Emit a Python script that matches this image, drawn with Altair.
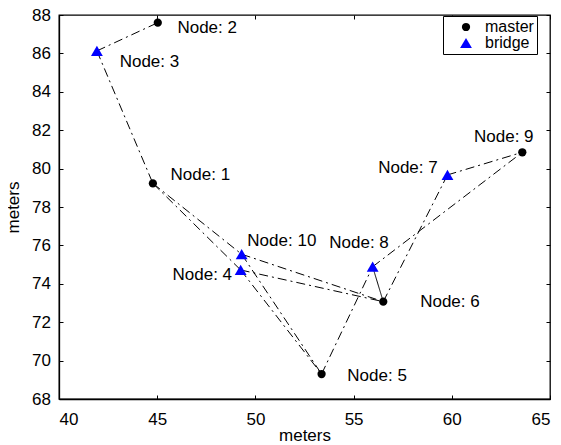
import altair as alt
import pandas as pd

# ---- data ----
node_ids = [1, 2, 3, 4, 5, 6, 7, 8, 9, 10]
node_x = [44.78, 45.03, 41.93, 49.25, 53.37, 56.51, 59.78, 55.97, 63.59, 49.30]
node_y = [79.23, 87.60, 86.13, 74.72, 69.30, 73.07, 79.67, 74.89, 80.85, 75.54]
node_role = ["master", "master", "bridge", "bridge", "master",
             "master", "bridge", "bridge", "master", "bridge"]
label_x = [45.68, 46.03, 43.09, 45.78, 54.68, 58.39, 56.25, 53.76, 61.13, 49.59]
label_y = [79.67, 87.32, 85.55, 74.46, 69.20, 73.05, 80.03, 76.13, 81.65, 76.23]

edge_from = [2, 3, 1, 1, 10, 4, 10, 4, 5, 8, 8, 6, 7]
edge_to = [3, 1, 10, 4, 6, 6, 5, 5, 8, 6, 9, 7, 9]
edge_style = ["dashdot"] * 9 + ["solid"] + ["dashdot"] * 3

x_ticks = [40, 45, 50, 55, 60, 65]
y_ticks = [68, 70, 72, 74, 76, 78, 80, 82, 84, 86, 88]

FONT = "Liberation Sans"

nodes = pd.DataFrame({
    "id": node_ids, "x": node_x, "y": node_y, "role": node_role,
    "lx": label_x, "ly": label_y,
    "label": [f"Node: {i}" for i in node_ids],
})
pos = {i: (node_x[k], node_y[k]) for k, i in enumerate(node_ids)}
rows = []
for e, (a, b, s) in enumerate(zip(edge_from, edge_to, edge_style)):
    for n in (a, b):
        rows.append({"edge": e, "x": pos[n][0], "y": pos[n][1], "style": s})
edges = pd.DataFrame(rows)

xs = alt.Scale(domain=[40, 65], nice=False, zero=False)
ys = alt.Scale(domain=[68, 88], nice=False, zero=False)
inward = {"expr": "-4"}

axis_style = dict(labelFont=FONT, titleFont=FONT, labelFontSize=17, titleFontSize=17,
                  titleFontWeight="normal", labelColor="black", titleColor="black",
                  domainColor="black", tickColor="black", domainWidth=1.3, tickWidth=1,
                  grid=False, labelOverlap=False)

x_axis = alt.Axis(values=x_ticks, title="meters", tickSize=inward,
                  labelPadding=16, titleBaseline="alphabetic", titleY=41,
                  **axis_style)
y_axis = alt.Axis(values=y_ticks, title="meters", tickSize=inward,
                  labelPadding=12.5, titleBaseline="alphabetic", titleX=-40.5,
                  titleY=192, **axis_style)

X = alt.X("x:Q", scale=xs, axis=x_axis)
Y = alt.Y("y:Q", scale=ys, axis=y_axis)

lines = alt.Chart(edges).mark_line(color="black", strokeWidth=1).encode(
    x=X, y=Y,
    detail="edge:N",
    strokeDash=alt.StrokeDash("style:N", scale=alt.Scale(
        domain=["dashdot", "solid"], range=[[9, 4, 2, 4], [1, 0]]), legend=None),
)

leg = alt.Legend(title=None, orient="none", legendX=384, legendY=1,
                 strokeColor="black", fillColor="white", padding=3,
                 symbolOffset=12, labelOffset=11, labelFontSize=16,
                 labelFont=FONT, symbolSize=50, rowPadding=0,
                 symbolStrokeWidth=0, labelColor="black")

points = alt.Chart(nodes).mark_point(filled=True, opacity=1).encode(
    x=X, y=Y,
    shape=alt.Shape("role:N", scale=alt.Scale(domain=["master", "bridge"],
                    range=["circle", "triangle-up"]), legend=leg),
    color=alt.Color("role:N", scale=alt.Scale(domain=["master", "bridge"],
                    range=["black", "#0000ff"]), legend=leg),
    size=alt.Size("role:N", scale=alt.Scale(domain=["master", "bridge"],
                  range=[68, 140]), legend=None),
)

labels = alt.Chart(nodes).mark_text(align="left", baseline="middle",
                                    fontSize=17, font=FONT, color="black").encode(
    x=alt.X("lx:Q", scale=xs, axis=x_axis),
    y=alt.Y("ly:Q", scale=ys, axis=y_axis),
    text="label:N",
)

inner = alt.layer(lines, points, labels)

dummy = alt.Chart(nodes).mark_point(opacity=0).encode(
    x=alt.X("x:Q", scale=xs, axis=alt.Axis(orient="top", values=x_ticks, labels=False,
                                          title=None, domain=False, grid=False,
                                          tickColor="black", tickSize=inward)),
    y=alt.Y("y:Q", scale=ys, axis=alt.Axis(orient="right", values=y_ticks, labels=False,
                                          title=None, domain=False, grid=False,
                                          tickColor="black", tickSize=inward)),
)

chart = alt.layer(inner, dummy).resolve_scale(x="independent", y="independent").properties(
    width=491, height=384,
    background="white",
    autosize=alt.AutoSizeParams(type="none"),
    padding={"left": 51, "top": 7, "right": 3, "bottom": 44},
).configure_view(stroke="black", strokeWidth=1.3).configure_axis(labelOverlap=False)

chart.save("out.html", embed_options={"renderer": "svg", "actions": False})
